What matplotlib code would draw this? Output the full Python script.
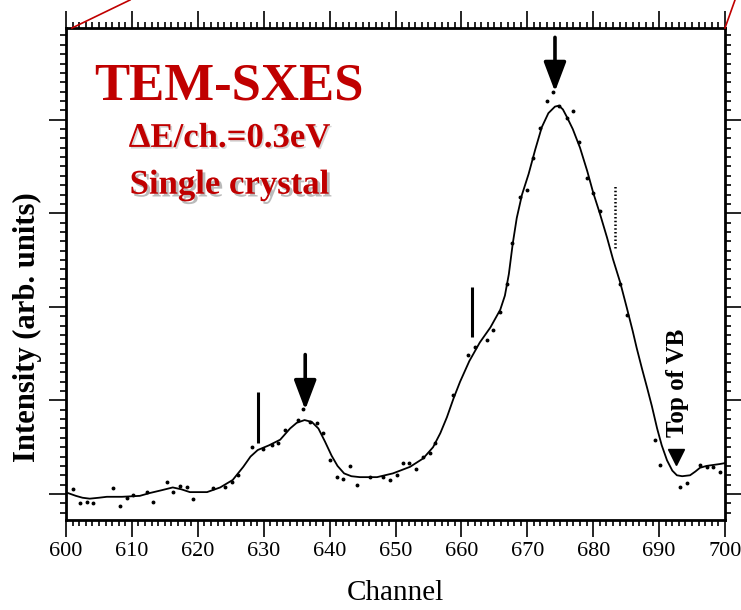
import numpy as np
import matplotlib
matplotlib.use('Agg')
import matplotlib.pyplot as plt
import matplotlib.patheffects as pe
from matplotlib.lines import Line2D
from matplotlib.ticker import MultipleLocator, NullFormatter

# smoothed spectrum (channel, intensity)
fit_ch = [600.3, 601.5, 602.5, 603.6, 605.0, 606.2, 608.5, 611.2, 612.7,
          614.5, 616.2, 617.5, 618.8, 621.4, 623.4, 625.3, 626.9, 628.0,
          629.1, 630.8, 632.5, 634.0, 635.0, 636.2, 637.3, 638.3, 639.3,
          640.3, 641.2, 642.2, 643.3, 644.6, 647.2, 649.6, 652.2, 654.2,
          655.7, 656.8, 657.8, 658.8, 659.8, 661.2, 662.8, 664.4, 665.9,
          666.6, 667.2, 667.8, 668.4, 669.2, 670.2, 671.2, 672.2, 673.2,
          674.2, 674.8, 675.4, 676.0, 676.9, 678.0, 679.1, 680.0, 681.0,
          682.1, 683.0, 684.1, 685.1, 686.0, 686.6, 687.4, 688.2, 688.9,
          689.7, 690.4, 691.2, 692.0, 692.7, 693.5, 694.7, 695.5, 696.2,
          697.2, 698.2, 699.2, 700.0]
fit_int = [0.01, -0.02, -0.04, -0.05, -0.04, -0.03, -0.03, -0.02, 0.01,
           0.04, 0.07, 0.05, 0.02, 0.02, 0.07, 0.15, 0.29, 0.40,
           0.47, 0.52, 0.58, 0.70, 0.76, 0.79, 0.77, 0.70, 0.56,
           0.41, 0.30, 0.22, 0.19, 0.18, 0.18, 0.22, 0.29, 0.38,
           0.50, 0.65, 0.82, 1.02, 1.20, 1.42, 1.62, 1.78, 1.97,
           2.12, 2.35, 2.68, 2.95, 3.20, 3.42, 3.68, 3.92, 4.07,
           4.14, 4.15, 4.11, 4.03, 3.90, 3.70, 3.45, 3.22, 3.00,
           2.74, 2.51, 2.26, 1.99, 1.74, 1.56, 1.34, 1.13, 0.94,
           0.70, 0.52, 0.36, 0.25, 0.20, 0.19, 0.20, 0.24, 0.28,
           0.30, 0.31, 0.32, 0.33]

# raw counts
raw_ch = [601.1, 602.1, 603.2, 604.1, 607.1, 608.2, 609.3, 610.2, 612.3,
          613.2, 615.3, 616.2, 617.3, 618.4, 619.3, 622.3, 624.1, 625.2,
          626.1, 628.2, 629.9, 631.3, 632.2, 633.2, 635.2, 636.0, 637.0,
          638.1, 639.0, 640.1, 641.1, 642.0, 643.1, 644.2, 646.1, 648.1,
          649.2, 650.2, 651.1, 652.0, 653.1, 654.2, 655.2, 656.0, 658.7,
          661.0, 662.1, 663.9, 664.8, 665.9, 666.9, 667.7, 668.9, 670.0,
          670.9, 671.9, 673.0, 673.9, 674.8, 676.0, 676.9, 677.8, 679.1,
          680.0, 681.0, 684.1, 685.1, 689.4, 690.1, 693.2, 694.2, 696.2,
          697.3, 698.2, 699.2]
raw_int = [0.05, -0.10, -0.09, -0.10, 0.06, -0.13, -0.04, -0.01, 0.02,
           -0.09, 0.13, 0.02, 0.09, 0.07, -0.05, 0.06, 0.07, 0.13,
           0.20, 0.50, 0.48, 0.52, 0.55, 0.68, 0.79, 0.91, 0.77,
           0.76, 0.65, 0.36, 0.18, 0.16, 0.30, 0.10, 0.18, 0.18,
           0.15, 0.20, 0.33, 0.33, 0.27, 0.39, 0.44, 0.55, 1.06,
           1.49, 1.57, 1.65, 1.75, 1.95, 2.24, 2.68, 3.17, 3.25,
           3.59, 3.91, 4.20, 4.30, 4.15, 4.02, 4.09, 3.76, 3.38,
           3.22, 3.02, 2.24, 1.91, 0.58, 0.31, 0.07, 0.12, 0.31,
           0.29, 0.29, 0.24]

# peak arrows: channel, tail, tip
arrow_ch = [636.3, 674.2]
arrow_tail = [1.49, 4.88]
arrow_tip = [0.90, 4.30]

# shoulder bars: channel, bottom, top
bar_ch = [629.1, 661.6]
bar_lo = [0.55, 1.68]
bar_hi = [1.09, 2.21]

dot_ch = 683.3
dot_lo, dot_hi = 2.63, 3.29

vb_ch = 692.6
vb_int = 0.39

red = '#C00000'
serif = 'Liberation Serif'

fig = plt.figure(figsize=(7.41, 6.10), dpi=100)
ax = fig.add_axes([66 / 741., 1 - 520 / 610., 659 / 741., 492 / 610.])

ax.plot(fit_ch, fit_int, color='k', lw=1.3, zorder=3,
        solid_joinstyle='round')
ax.plot(raw_ch, raw_int, ls='none', marker='o', ms=1.8, color='k', zorder=3)

for c, t0, t1 in zip(arrow_ch, arrow_tail, arrow_tip):
    ax.annotate('', xy=(c, t1), xytext=(c, t0),
                arrowprops=dict(arrowstyle='-|>,head_length=0.45,head_width=0.17',
                                lw=2.6, color='k', mutation_scale=40,
                                shrinkA=0, shrinkB=0))
for c, lo, hi in zip(bar_ch, bar_lo, bar_hi):
    ax.plot([c, c], [lo, hi], color='k', lw=2.2, solid_capstyle='butt')
ax.plot([dot_ch, dot_ch], [dot_lo, dot_hi], color='k', lw=1.8, ls=(0, (0.6, 0.9)))

ax.plot([vb_ch], [vb_int], marker='v', ms=11, color='k', ls='none')
ax.text(vb_ch + 0.2, 1.19, 'Top of VB', rotation=90, ha='center', va='center',
        fontsize=18, fontweight='bold', family=serif)

ax.text(624.8, 4.35, 'TEM-SXES', color=red, fontsize=38, fontweight='bold',
        family=serif, ha='center', va='center')
ax.text(624.8, 3.80, '\u0394E/ch.=0.3eV',
        color=red, fontsize=25, fontweight='bold', family=serif,
        ha='center', va='center',
        path_effects=[pe.SimplePatchShadow(offset=(1.2, -1.2), shadow_rgbFace='0.6', alpha=0.4),
                      pe.Normal()])
ax.text(624.8, 3.30, 'Single crystal', color=red, fontsize=25, fontweight='bold',
        family=serif, ha='center', va='center',
        path_effects=[pe.SimplePatchShadow(offset=(2, -2), shadow_rgbFace='0.55', alpha=0.6),
                      pe.Normal()])

ax.set_xlim(600, 700)
ax.set_ylim(-0.278, 4.98)
ax.xaxis.set_major_locator(MultipleLocator(10))
ax.xaxis.set_minor_locator(MultipleLocator(1))
ax.yaxis.set_major_locator(MultipleLocator(1))
ax.yaxis.set_minor_locator(MultipleLocator(0.1))
ax.yaxis.set_major_formatter(NullFormatter())
ax.tick_params(which='both', direction='out', top=True, right=True,
               width=1.2, labelsize=16)
ax.tick_params(which='major', length=12)
ax.tick_params(which='minor', length=4)
for lab in ax.get_xticklabels():
    lab.set_family(serif)
for s in ax.spines.values():
    s.set_linewidth(2)

ax.set_xlabel('Channel', fontsize=21, family=serif, labelpad=14)
ax.set_ylabel('Intensity (arb. units)', fontsize=22, fontweight='bold',
              family=serif)
ax.yaxis.set_label_coords(-0.037, 0.392)

# red guide lines running off the frame
fig.add_artist(Line2D([72 / 741., 130 / 741.], [1 - 28 / 610., 1.0],
                      color=red, lw=1.2, transform=fig.transFigure))
fig.add_artist(Line2D([725 / 741., 735 / 741.], [1 - 28 / 610., 1.0],
                      color=red, lw=1.2, transform=fig.transFigure))

fig.savefig('out.png', dpi=100)
